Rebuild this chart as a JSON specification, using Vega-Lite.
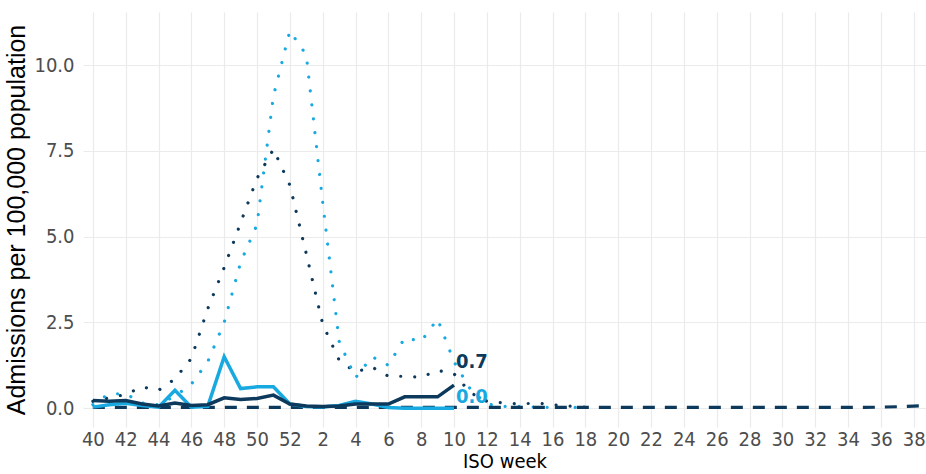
{
  "$schema": "https://vega.github.io/schema/vega-lite/v6.json",
  "autosize": "none",
  "width": 843,
  "height": 415,
  "padding": {"left": 83, "top": 12, "right": 0, "bottom": 47},
  "background": "white",
  "config": {
    "view": {"stroke": null},
    "axis": {
      "domain": false,
      "ticks": false,
      "gridColor": "#ebebeb",
      "gridWidth": 1.2,
      "labelFont": "Liberation Sans Narrow, DejaVu Sans Condensed, Liberation Sans",
      "labelColor": "#4d4d4d",
      "labelFontSize": 20,
      "titleFontWeight": "normal",
      "titleColor": "#000000"
    }
  },
  "datasets": {
    "rates": [
      {"series": "Season 1", "week": 40, "value": 0.2}, {"series": "Season 1", "week": 41, "value": 0.3}, {"series": "Season 1", "week": 42, "value": 0.4}, {"series": "Season 1", "week": 43, "value": 0.62}, {"series": "Season 1", "week": 44, "value": 0.52}, {"series": "Season 1", "week": 45, "value": 0.85}, {"series": "Season 1", "week": 46, "value": 1.45}, {"series": "Season 1", "week": 47, "value": 2.9}, {"series": "Season 1", "week": 48, "value": 4.1}, {"series": "Season 1", "week": 49, "value": 5.4}, {"series": "Season 1", "week": 50, "value": 6.7}, {"series": "Season 1", "week": 51, "value": 7.55}, {"series": "Season 1", "week": 52, "value": 6.5},
      {"series": "Season 1", "week": 1, "value": 4.5}, {"series": "Season 1", "week": 2, "value": 2.45}, {"series": "Season 1", "week": 3, "value": 1.4}, {"series": "Season 1", "week": 4, "value": 1.05}, {"series": "Season 1", "week": 5, "value": 1.2}, {"series": "Season 1", "week": 6, "value": 0.93}, {"series": "Season 1", "week": 7, "value": 0.93}, {"series": "Season 1", "week": 8, "value": 0.9}, {"series": "Season 1", "week": 9, "value": 1.1}, {"series": "Season 1", "week": 10, "value": 1.0}, {"series": "Season 1", "week": 11, "value": 0.45}, {"series": "Season 1", "week": 12, "value": 0.2}, {"series": "Season 1", "week": 13, "value": 0.15}, {"series": "Season 1", "week": 14, "value": 0.12}, {"series": "Season 1", "week": 15, "value": 0.15}, {"series": "Season 1", "week": 16, "value": 0.1}, {"series": "Season 1", "week": 17, "value": 0.06}, {"series": "Season 1", "week": 18, "value": 0.03},

      {"series": "Season 2", "week": 40, "value": 0.1}, {"series": "Season 2", "week": 41, "value": 0.42}, {"series": "Season 2", "week": 42, "value": 0.42}, {"series": "Season 2", "week": 43, "value": 0.15}, {"series": "Season 2", "week": 44, "value": 0.1}, {"series": "Season 2", "week": 45, "value": 0.35}, {"series": "Season 2", "week": 46, "value": 0.7}, {"series": "Season 2", "week": 47, "value": 1.35}, {"series": "Season 2", "week": 48, "value": 2.5}, {"series": "Season 2", "week": 49, "value": 4.25}, {"series": "Season 2", "week": 50, "value": 5.35}, {"series": "Season 2", "week": 51, "value": 9.1}, {"series": "Season 2", "week": 52, "value": 11.0},
      {"series": "Season 2", "week": 1, "value": 10.3}, {"series": "Season 2", "week": 2, "value": 6.0}, {"series": "Season 2", "week": 3, "value": 1.95}, {"series": "Season 2", "week": 4, "value": 0.88}, {"series": "Season 2", "week": 5, "value": 1.5}, {"series": "Season 2", "week": 6, "value": 1.25}, {"series": "Season 2", "week": 7, "value": 2.05}, {"series": "Season 2", "week": 8, "value": 1.95}, {"series": "Season 2", "week": 9, "value": 2.6}, {"series": "Season 2", "week": 10, "value": 1.35}, {"series": "Season 2", "week": 11, "value": 0.55}, {"series": "Season 2", "week": 12, "value": 0.12}, {"series": "Season 2", "week": 13, "value": 0.05}, {"series": "Season 2", "week": 14, "value": 0.05}, {"series": "Season 2", "week": 15, "value": 0.03}, {"series": "Season 2", "week": 16, "value": 0.02}, {"series": "Season 2", "week": 17, "value": 0.02}, {"series": "Season 2", "week": 18, "value": 0.02},

      {"series": "Season 3", "week": 40, "value": 0.02}, {"series": "Season 3", "week": 41, "value": 0.02}, {"series": "Season 3", "week": 42, "value": 0.02}, {"series": "Season 3", "week": 43, "value": 0.02}, {"series": "Season 3", "week": 44, "value": 0.02}, {"series": "Season 3", "week": 45, "value": 0.02}, {"series": "Season 3", "week": 46, "value": 0.02}, {"series": "Season 3", "week": 47, "value": 0.02}, {"series": "Season 3", "week": 48, "value": 0.02}, {"series": "Season 3", "week": 49, "value": 0.02}, {"series": "Season 3", "week": 50, "value": 0.02}, {"series": "Season 3", "week": 51, "value": 0.02}, {"series": "Season 3", "week": 52, "value": 0.02},
      {"series": "Season 3", "week": 1, "value": 0.02}, {"series": "Season 3", "week": 2, "value": 0.02}, {"series": "Season 3", "week": 3, "value": 0.02}, {"series": "Season 3", "week": 4, "value": 0.02}, {"series": "Season 3", "week": 5, "value": 0.02}, {"series": "Season 3", "week": 6, "value": 0.02}, {"series": "Season 3", "week": 7, "value": 0.02}, {"series": "Season 3", "week": 8, "value": 0.02}, {"series": "Season 3", "week": 9, "value": 0.02}, {"series": "Season 3", "week": 10, "value": 0.02}, {"series": "Season 3", "week": 11, "value": 0.02}, {"series": "Season 3", "week": 12, "value": 0.02}, {"series": "Season 3", "week": 13, "value": 0.02}, {"series": "Season 3", "week": 14, "value": 0.02}, {"series": "Season 3", "week": 15, "value": 0.02}, {"series": "Season 3", "week": 16, "value": 0.02}, {"series": "Season 3", "week": 17, "value": 0.02}, {"series": "Season 3", "week": 18, "value": 0.02}, {"series": "Season 3", "week": 19, "value": 0.02}, {"series": "Season 3", "week": 20, "value": 0.02}, {"series": "Season 3", "week": 21, "value": 0.02}, {"series": "Season 3", "week": 22, "value": 0.02}, {"series": "Season 3", "week": 23, "value": 0.02}, {"series": "Season 3", "week": 24, "value": 0.02}, {"series": "Season 3", "week": 25, "value": 0.02}, {"series": "Season 3", "week": 26, "value": 0.02}, {"series": "Season 3", "week": 27, "value": 0.02}, {"series": "Season 3", "week": 28, "value": 0.02}, {"series": "Season 3", "week": 29, "value": 0.02}, {"series": "Season 3", "week": 30, "value": 0.02}, {"series": "Season 3", "week": 31, "value": 0.02}, {"series": "Season 3", "week": 32, "value": 0.02}, {"series": "Season 3", "week": 33, "value": 0.02}, {"series": "Season 3", "week": 34, "value": 0.02}, {"series": "Season 3", "week": 35, "value": 0.02}, {"series": "Season 3", "week": 36, "value": 0.03}, {"series": "Season 3", "week": 37, "value": 0.04}, {"series": "Season 3", "week": 38, "value": 0.06}, {"series": "Season 3", "week": 39, "value": 0.08},

      {"series": "Current A", "week": 40, "value": 0.03}, {"series": "Current A", "week": 41, "value": 0.1}, {"series": "Current A", "week": 42, "value": 0.14}, {"series": "Current A", "week": 43, "value": 0.08}, {"series": "Current A", "week": 44, "value": 0.03}, {"series": "Current A", "week": 45, "value": 0.52}, {"series": "Current A", "week": 46, "value": 0.03}, {"series": "Current A", "week": 47, "value": 0.05}, {"series": "Current A", "week": 48, "value": 1.5}, {"series": "Current A", "week": 49, "value": 0.57}, {"series": "Current A", "week": 50, "value": 0.62}, {"series": "Current A", "week": 51, "value": 0.62}, {"series": "Current A", "week": 52, "value": 0.12},
      {"series": "Current A", "week": 1, "value": 0.05}, {"series": "Current A", "week": 2, "value": 0.03}, {"series": "Current A", "week": 3, "value": 0.08}, {"series": "Current A", "week": 4, "value": 0.2}, {"series": "Current A", "week": 5, "value": 0.12}, {"series": "Current A", "week": 6, "value": 0.02}, {"series": "Current A", "week": 7, "value": 0.0}, {"series": "Current A", "week": 8, "value": 0.0}, {"series": "Current A", "week": 9, "value": 0.0}, {"series": "Current A", "week": 10, "value": 0.0},

      {"series": "Current B", "week": 40, "value": 0.22}, {"series": "Current B", "week": 41, "value": 0.2}, {"series": "Current B", "week": 42, "value": 0.22}, {"series": "Current B", "week": 43, "value": 0.12}, {"series": "Current B", "week": 44, "value": 0.06}, {"series": "Current B", "week": 45, "value": 0.15}, {"series": "Current B", "week": 46, "value": 0.08}, {"series": "Current B", "week": 47, "value": 0.1}, {"series": "Current B", "week": 48, "value": 0.3}, {"series": "Current B", "week": 49, "value": 0.25}, {"series": "Current B", "week": 50, "value": 0.28}, {"series": "Current B", "week": 51, "value": 0.38}, {"series": "Current B", "week": 52, "value": 0.12},
      {"series": "Current B", "week": 1, "value": 0.06}, {"series": "Current B", "week": 2, "value": 0.05}, {"series": "Current B", "week": 3, "value": 0.06}, {"series": "Current B", "week": 4, "value": 0.12}, {"series": "Current B", "week": 5, "value": 0.12}, {"series": "Current B", "week": 6, "value": 0.12}, {"series": "Current B", "week": 7, "value": 0.33}, {"series": "Current B", "week": 8, "value": 0.33}, {"series": "Current B", "week": 9, "value": 0.33}, {"series": "Current B", "week": 10, "value": 0.67}
    ]
  },
  "data": {"name": "rates"},
  "transform": [
    {"calculate": "datum.week >= 40 ? datum.week - 40 : datum.week + 12", "as": "season_week"}
  ],
  "encoding": {
    "x": {
      "field": "season_week",
      "type": "quantitative",
      "scale": {"domain": [-0.6, 50.75], "nice": false, "zero": false},
      "axis": {
        "values": [0, 2, 4, 6, 8, 10, 12, 14, 16, 18, 20, 22, 24, 26, 28, 30, 32, 34, 36, 38, 40, 42, 44, 46, 48, 50],
        "labelExpr": "datum.value <= 12 ? datum.value + 40 : datum.value - 12",
        "labelPadding": 2,
        "title": "ISO week",
        "titleFont": "Liberation Sans Narrow, DejaVu Sans Condensed, Liberation Sans",
        "titleFontSize": 20,
        "titlePadding": 2
      }
    },
    "y": {
      "field": "value",
      "type": "quantitative",
      "scale": {"domain": [-0.55, 11.55], "nice": false, "zero": false},
      "axis": {
        "values": [0, 2.5, 5, 7.5, 10],
        "format": ".1f",
        "labelPadding": 9,
        "title": "Admissions per 100,000 population",
        "titleFont": "Liberation Sans",
        "titleFontSize": 25,
        "titlePadding": 4
      }
    }
  },
  "layer": [
    {
      "transform": [{"filter": "datum.series === 'Season 1'"}],
      "mark": {"type": "line", "clip": true, "color": "#0d3a5c", "strokeWidth": 3.2, "strokeDash": [0.01, 14], "strokeCap": "round"}
    },
    {
      "transform": [{"filter": "datum.series === 'Season 2'"}],
      "mark": {"type": "line", "clip": true, "color": "#19a9e1", "strokeWidth": 3.2, "strokeDash": [0.01, 14], "strokeCap": "round"}
    },
    {
      "transform": [{"filter": "datum.series === 'Season 3'"}],
      "mark": {"type": "line", "clip": true, "color": "#0d3a5c", "strokeWidth": 3.2, "strokeDash": [12, 10]}
    },
    {
      "transform": [{"filter": "datum.series === 'Current A'"}],
      "mark": {"type": "line", "clip": true, "color": "#19a9e1", "strokeWidth": 3.5}
    },
    {
      "transform": [{"filter": "datum.series === 'Current B'"}],
      "mark": {"type": "line", "clip": true, "color": "#0d3a5c", "strokeWidth": 3.5}
    },
    {
      "transform": [{"filter": "datum.series === 'Current B' && datum.week === 10"}],
      "mark": {"type": "text", "align": "left", "baseline": "middle", "dx": 2, "dy": -23, "fontSize": 20, "fontWeight": "bold", "font": "Liberation Sans Narrow, DejaVu Sans Condensed, Liberation Sans", "color": "#0d3a5c"},
      "encoding": {"text": {"field": "value", "type": "quantitative", "format": ".1f"}}
    },
    {
      "transform": [{"filter": "datum.series === 'Current A' && datum.week === 10"}],
      "mark": {"type": "text", "align": "left", "baseline": "middle", "dx": 2, "dy": -11, "fontSize": 20, "fontWeight": "bold", "font": "Liberation Sans Narrow, DejaVu Sans Condensed, Liberation Sans", "color": "#19a9e1"},
      "encoding": {"text": {"field": "value", "type": "quantitative", "format": ".1f"}}
    }
  ]
}
